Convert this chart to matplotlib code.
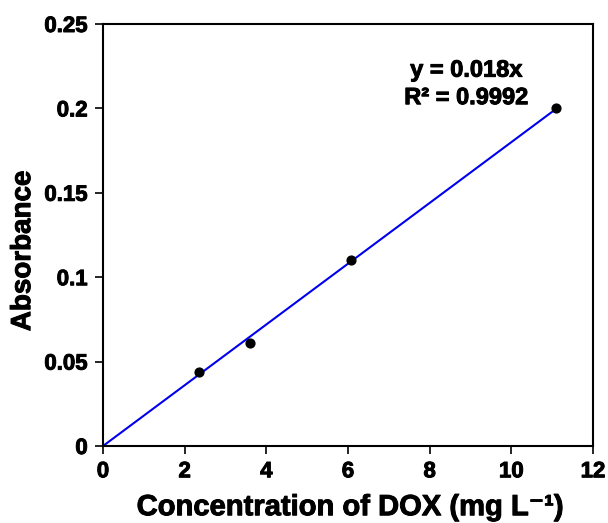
import matplotlib.pyplot as plt
import matplotlib.patheffects as pe
import numpy as np

plt.rcParams['font.family'] = ['Liberation Sans', 'DejaVu Sans']
plt.rcParams['font.weight'] = 'bold'

conc = [2.35, 3.6, 6.08, 11.1]
absorb = [0.044, 0.061, 0.110, 0.200]
slope = 0.018
fit_x = [0, 11.1]

heavy = [pe.withStroke(linewidth=0.7, foreground='black')]

fig = plt.figure(figsize=(6.08, 5.23), dpi=100)
ax = fig.add_axes([103/608, 77/523, 490/608, 422/523])

ax.plot(fit_x, [slope * v for v in fit_x], color='#0000ee', lw=1.5, zorder=2)
ax.scatter(conc, absorb, s=40, color='black', zorder=3)

ax.set_xlim(0, 12)
ax.set_ylim(0, 0.25)
ax.set_xticks(np.arange(0, 13, 2))
ax.set_yticks([0, 0.05, 0.1, 0.15, 0.2, 0.25])
ax.set_yticklabels(['0', '0.05', '0.1', '0.15', '0.2', '0.25'])
ax.tick_params(direction='out', length=6, width=1.2, labelsize=16, pad=5)
for lab in ax.get_xticklabels() + ax.get_yticklabels():
    lab.set_path_effects(heavy)
for s in ax.spines.values():
    s.set_linewidth(1.5)

ax.set_xlabel('Concentration of DOX (mg L\u207b\u00b9)', fontsize=21, fontweight='bold',
              path_effects=heavy, va='center')
ax.xaxis.set_label_coords(0.504, -0.145)
ax.set_ylabel('Absorbance', fontsize=20, fontweight='bold', path_effects=heavy, va='center')
ax.yaxis.set_label_coords(-0.163, 0.462)

ax.text(8.9, 0.2145, 'y = 0.018x\nR² = 0.9992', fontsize=17, fontweight='bold',
        ha='center', va='center', linespacing=1.25, path_effects=heavy)

fig.savefig('out.png', dpi=100)
